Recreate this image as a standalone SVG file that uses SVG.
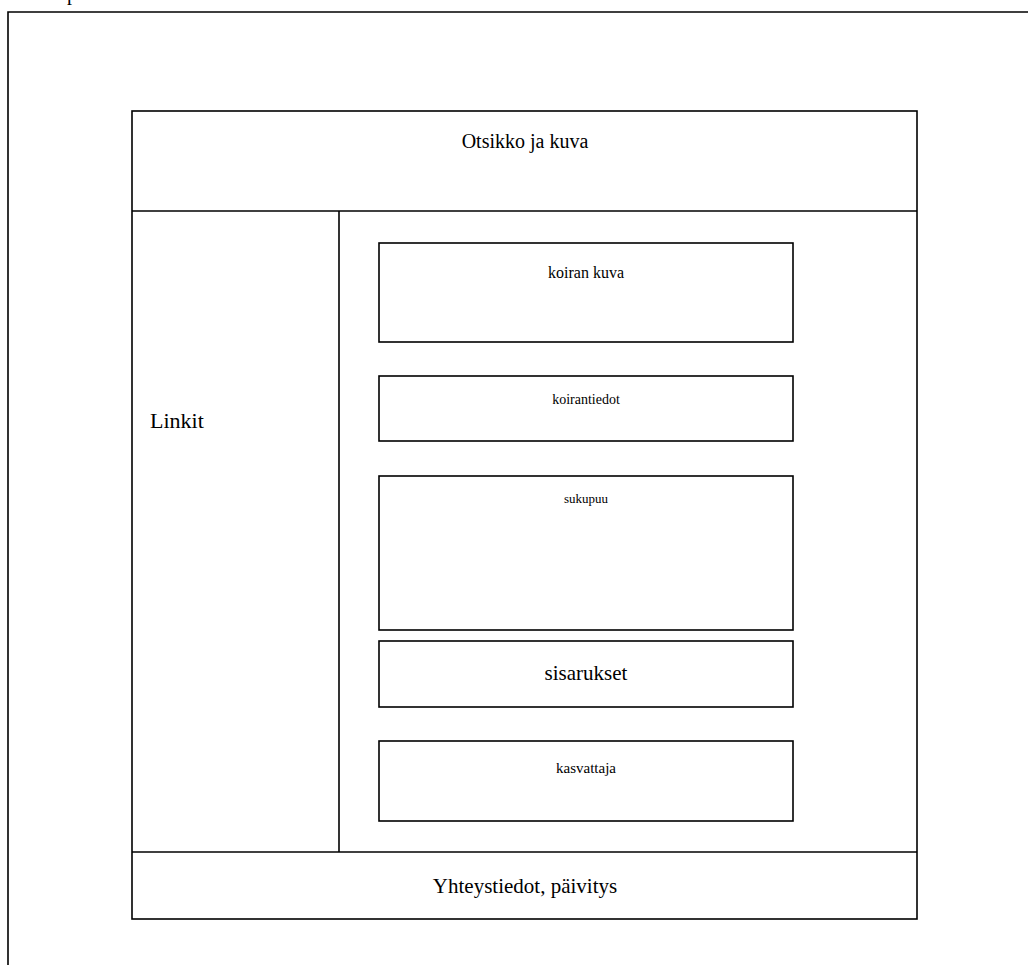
<svg xmlns="http://www.w3.org/2000/svg" width="1028" height="965" viewBox="0 0 1028 965">
<style>
.b{fill:#fff;stroke:#000;stroke-width:1.6}
.l{stroke:#000;stroke-width:1.6;fill:none}
text{font-family:"Liberation Serif","Times New Roman",serif;fill:#000;text-anchor:middle}
</style>
<rect width="1028" height="965" fill="#fff"/>
<text x="72" y="0" style="font-size:20px">p</text>
<g id="frame"><path class="l" d="M8,965 V12 H1040"/></g>
<g id="page"><rect class="b" x="132" y="111" width="785" height="808"/></g>
<g id="connectors">
<line class="l" x1="132" y1="211" x2="917" y2="211"/>
<line class="l" x1="339" y1="211" x2="339" y2="852"/>
<line class="l" x1="132" y1="852" x2="917" y2="852"/>
</g>
<g id="header"><text x="525" y="148" style="font-size:20px">Otsikko ja kuva</text></g>
<g id="linkit"><text x="150" y="428" style="font-size:22px;text-anchor:start">Linkit</text></g>
<g id="koiran-kuva"><rect class="b" x="379" y="243" width="414" height="99"/><text x="586" y="278" style="font-size:16px">koiran kuva</text></g>
<g id="koirantiedot"><rect class="b" x="379" y="376" width="414" height="65"/><text x="586" y="404" style="font-size:14px">koirantiedot</text></g>
<g id="sukupuu"><rect class="b" x="379" y="476" width="414" height="154"/><text x="586" y="503" style="font-size:13px">sukupuu</text></g>
<g id="sisarukset"><rect class="b" x="379" y="641" width="414" height="66"/><text x="586" y="680" style="font-size:21px">sisarukset</text></g>
<g id="kasvattaja"><rect class="b" x="379" y="741" width="414" height="80"/><text x="586" y="773" style="font-size:15px">kasvattaja</text></g>
<g id="footer"><text x="525" y="893" style="font-size:21px">Yhteystiedot, päivitys</text></g>
</svg>
